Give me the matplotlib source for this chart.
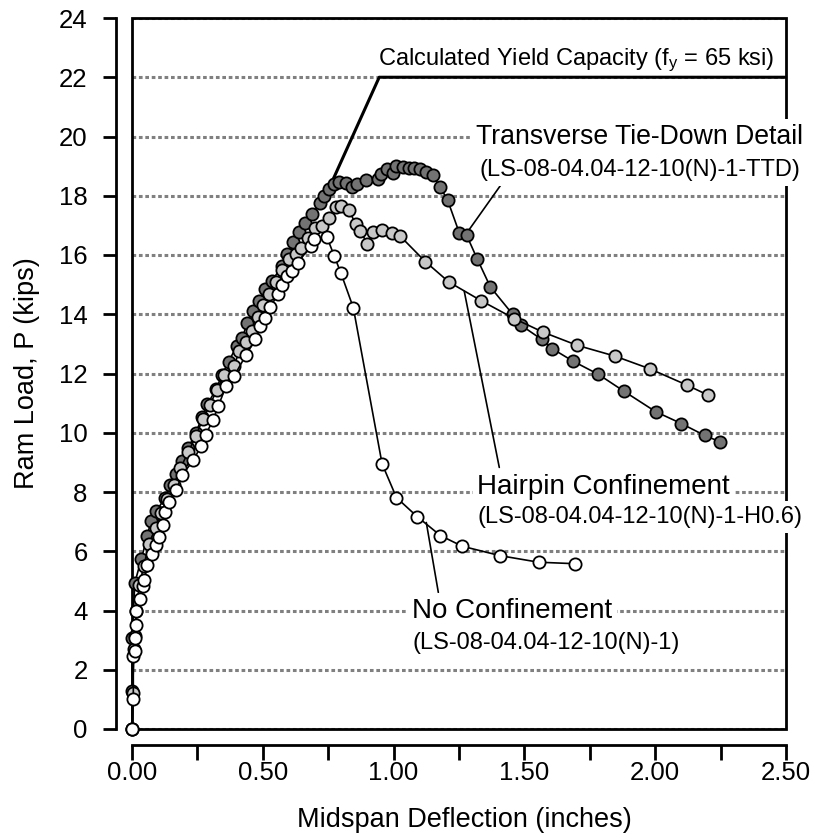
import numpy as np
import matplotlib
matplotlib.use('Agg')
import matplotlib.pyplot as plt
from matplotlib.patches import Rectangle

plt.rcParams['font.family'] = ['Liberation Sans', 'DejaVu Sans']
plt.rcParams['mathtext.default'] = 'regular'

# Transverse tie-down detail (dark gray)
ttd_x = [0, 0.0, 0.0, 0.011, 0.036, 0.059, 0.072, 0.093, 0.126, 0.146, 0.17, 0.192,
         0.215, 0.243, 0.269, 0.288, 0.323, 0.343, 0.369, 0.4, 0.422, 0.441, 0.461,
         0.486, 0.509, 0.535, 0.573, 0.594, 0.614, 0.639, 0.662, 0.688, 0.718, 0.735,
         0.754, 0.773, 0.792, 0.818, 0.841, 0.862, 0.894, 0.939, 0.953, 0.974, 0.998,
         1.011, 1.036, 1.057, 1.079, 1.101, 1.124, 1.149, 1.179, 1.207, 1.251, 1.279,
         1.319, 1.37, 1.455, 1.487, 1.566, 1.606, 1.685, 1.783, 1.879, 2.002, 2.1,
         2.189, 2.246]
ttd_y = [0, 1.27, 3.08, 4.94, 5.75, 6.53, 7.02, 7.35, 7.8, 8.22, 8.62, 9.06,
         9.49, 9.98, 10.54, 10.96, 11.49, 11.94, 12.39, 12.93, 13.21, 13.72, 14.11,
         14.45, 14.84, 15.12, 15.63, 16.02, 16.44, 16.76, 17.07, 17.37, 17.75, 17.98,
         18.22, 18.39, 18.45, 18.44, 18.29, 18.4, 18.52, 18.55, 18.73, 18.89, 18.78,
         19.02, 18.98, 18.95, 18.95, 18.9, 18.8, 18.69, 18.28, 17.84, 16.75, 16.67,
         15.88, 14.92, 14.0, 13.63, 13.15, 12.84, 12.42, 11.97, 11.41, 10.71, 10.31,
         9.91, 9.7]

# Hairpin confinement (light gray)
hp_x = [0, 0.002, 0.008, 0.012, 0.017, 0.028, 0.045, 0.065, 0.09, 0.112, 0.135, 0.16,
        0.185, 0.215, 0.245, 0.27, 0.298, 0.325, 0.352, 0.39, 0.41, 0.437, 0.46, 0.48,
        0.5, 0.525, 0.55, 0.575, 0.6, 0.625, 0.646, 0.671, 0.7, 0.726, 0.754, 0.78,
        0.799, 0.828, 0.856, 0.873, 0.9, 0.921, 0.957, 0.995, 1.026, 1.121, 1.211,
        1.334, 1.462, 1.57, 1.702, 1.845, 1.979, 2.121, 2.202]
hp_y = [0, 1.22, 2.7, 3.15, 4.0, 4.85, 5.5, 6.25, 6.8, 7.3, 7.75, 8.25,
        8.8, 9.35, 9.9, 10.45, 10.95, 11.45, 11.95, 12.25, 12.75, 13.05, 13.45, 13.9,
        14.3, 14.7, 15.1, 15.5, 15.85, 16.05, 16.25, 16.59, 16.9, 16.98, 17.26, 17.63,
        17.67, 17.53, 17.03, 16.8, 16.38, 16.76, 16.83, 16.73, 16.63, 15.78, 15.09,
        14.46, 13.85, 13.4, 12.95, 12.59, 12.16, 11.61, 11.27]

# No confinement (white)
nc_x = [0, 0.005, 0.005, 0.011, 0.011, 0.016, 0.016, 0.031, 0.042, 0.047, 0.059, 0.075,
        0.091, 0.103, 0.119, 0.125, 0.142, 0.17, 0.19, 0.235, 0.263, 0.282, 0.31, 0.33,
        0.359, 0.39, 0.435, 0.471, 0.489, 0.508, 0.527, 0.56, 0.575, 0.591, 0.611,
        0.633, 0.684, 0.697, 0.745, 0.773, 0.799, 0.846, 0.956, 1.011, 1.09, 1.179,
        1.262, 1.408, 1.554, 1.692]
nc_y = [0, 1.0, 2.45, 2.62, 3.07, 3.52, 3.97, 4.4, 4.82, 5.04, 5.53, 5.92,
        6.2, 6.49, 6.87, 7.32, 7.66, 8.08, 8.56, 9.07, 9.55, 9.94, 10.43, 10.9,
        11.57, 11.91, 12.61, 13.15, 13.6, 13.88, 14.26, 14.67, 14.98, 15.29, 15.46,
        15.74, 16.3, 16.53, 16.61, 15.97, 15.38, 14.22, 8.95, 7.81, 7.17, 6.53,
        6.17, 5.85, 5.63, 5.58]

# calculated yield capacity line
calc_x = [0.72, 0.945, 2.5]
calc_y = [17.6, 22.0, 22.0]

fig = plt.figure(figsize=(8.14, 8.36), dpi=100)
ax = fig.add_axes([132/814, 1-729/836, (786-132)/814, (729-18)/836])

ax.set_xlim(0, 2.5)
ax.set_ylim(0, 24)

ax.grid(axis='y', color='#808080', linestyle=(0, (1.2, 0.9)), linewidth=2.2)
ax.set_axisbelow(True)

ax.plot(calc_x, calc_y, color='black', lw=2.2, zorder=2)

ax.plot(ttd_x, ttd_y, '-o', color='black', lw=1.2, ms=8.8, mfc='#737373',
        mec='black', mew=1.3, zorder=3, clip_on=False)
ax.plot(hp_x, hp_y, '-o', color='black', lw=1.2, ms=8.8, mfc='#c8c8c8',
        mec='black', mew=1.3, zorder=3.1, clip_on=False)
ax.plot(nc_x, nc_y, '-o', color='black', lw=1.2, ms=8.8, mfc='white',
        mec='black', mew=1.3, zorder=3.2, clip_on=False)

# frame + detached axes
for s in ['top', 'right']:
    ax.spines[s].set_visible(False)
for s in ['left', 'bottom']:
    ax.spines[s].set_position(('outward', 11.5))
    ax.spines[s].set_linewidth(2)
ax.add_patch(Rectangle((0, 0), 1, 1, transform=ax.transAxes, fill=False,
                       lw=2, ec='black', clip_on=False, zorder=2.6))

ax.set_yticks(np.arange(0, 25, 2))
ax.set_xticks(np.arange(0, 2.51, 0.5))
ax.set_xticks(np.arange(0, 2.51, 0.25), minor=True)
ax.set_xticklabels(['%.2f' % v for v in np.arange(0, 2.51, 0.5)])
ax.tick_params(axis='y', direction='out', width=2, length=9.5, pad=11, labelsize=18.5)
ax.tick_params(axis='x', which='both', direction='out', width=2, length=10.5, pad=1,
               labelsize=18.5)

fig.text(464/814, 1-820/836, 'Midspan Deflection (inches)', fontsize=19.5,
         ha='center', va='center')
fig.text(27/814, 1-373/836, 'Ram Load, P (kips)', fontsize=19.5, rotation=90,
         ha='center', va='center')

box = dict(fc='white', ec='none', pad=3.5)
ax.text(0.941, 22.42, 'Calculated Yield Capacity (f$_{y}$ = 65 ksi)', fontsize=17,
        ha='left', va='baseline', zorder=6)
ax.text(1.316, 19.74, 'Transverse Tie-Down Detail', fontsize=19.2, ha='left',
        va='baseline', bbox=box, zorder=6, clip_on=False)
ax.text(1.328, 18.67, '(LS-08-04.04-12-10(N)-1-TTD)', fontsize=17, ha='left',
        va='baseline', bbox=box, zorder=6, clip_on=False)
ax.text(1.32, 7.92, 'Hairpin Confinement', fontsize=20, ha='left',
        va='baseline', bbox=box, zorder=6, clip_on=False)
ax.text(1.32, 6.94, '(LS-08-04.04-12-10(N)-1-H0.6)', fontsize=17, ha='left',
        va='baseline', bbox=box, zorder=6, clip_on=False)
ax.text(1.072, 3.75, 'No Confinement', fontsize=20, ha='left',
        va='baseline', bbox=box, zorder=6, clip_on=False)
ax.text(1.072, 2.70, '(LS-08-04.04-12-10(N)-1)', fontsize=17, ha='left',
        va='baseline', bbox=box, zorder=6, clip_on=False)

# leader lines
lead = dict(arrowstyle='-', lw=1.2, color='black', shrinkA=0, shrinkB=0)
ax.annotate('', xy=(1.29, 16.87), xytext=(1.412, 18.39), arrowprops=lead, zorder=5)
ax.annotate('', xy=(1.27, 14.78), xytext=(1.404, 8.83), arrowprops=lead, zorder=5)
ax.annotate('', xy=(1.125, 6.97), xytext=(1.171, 4.61), arrowprops=lead, zorder=5)

fig.savefig('out.png', dpi=100)
